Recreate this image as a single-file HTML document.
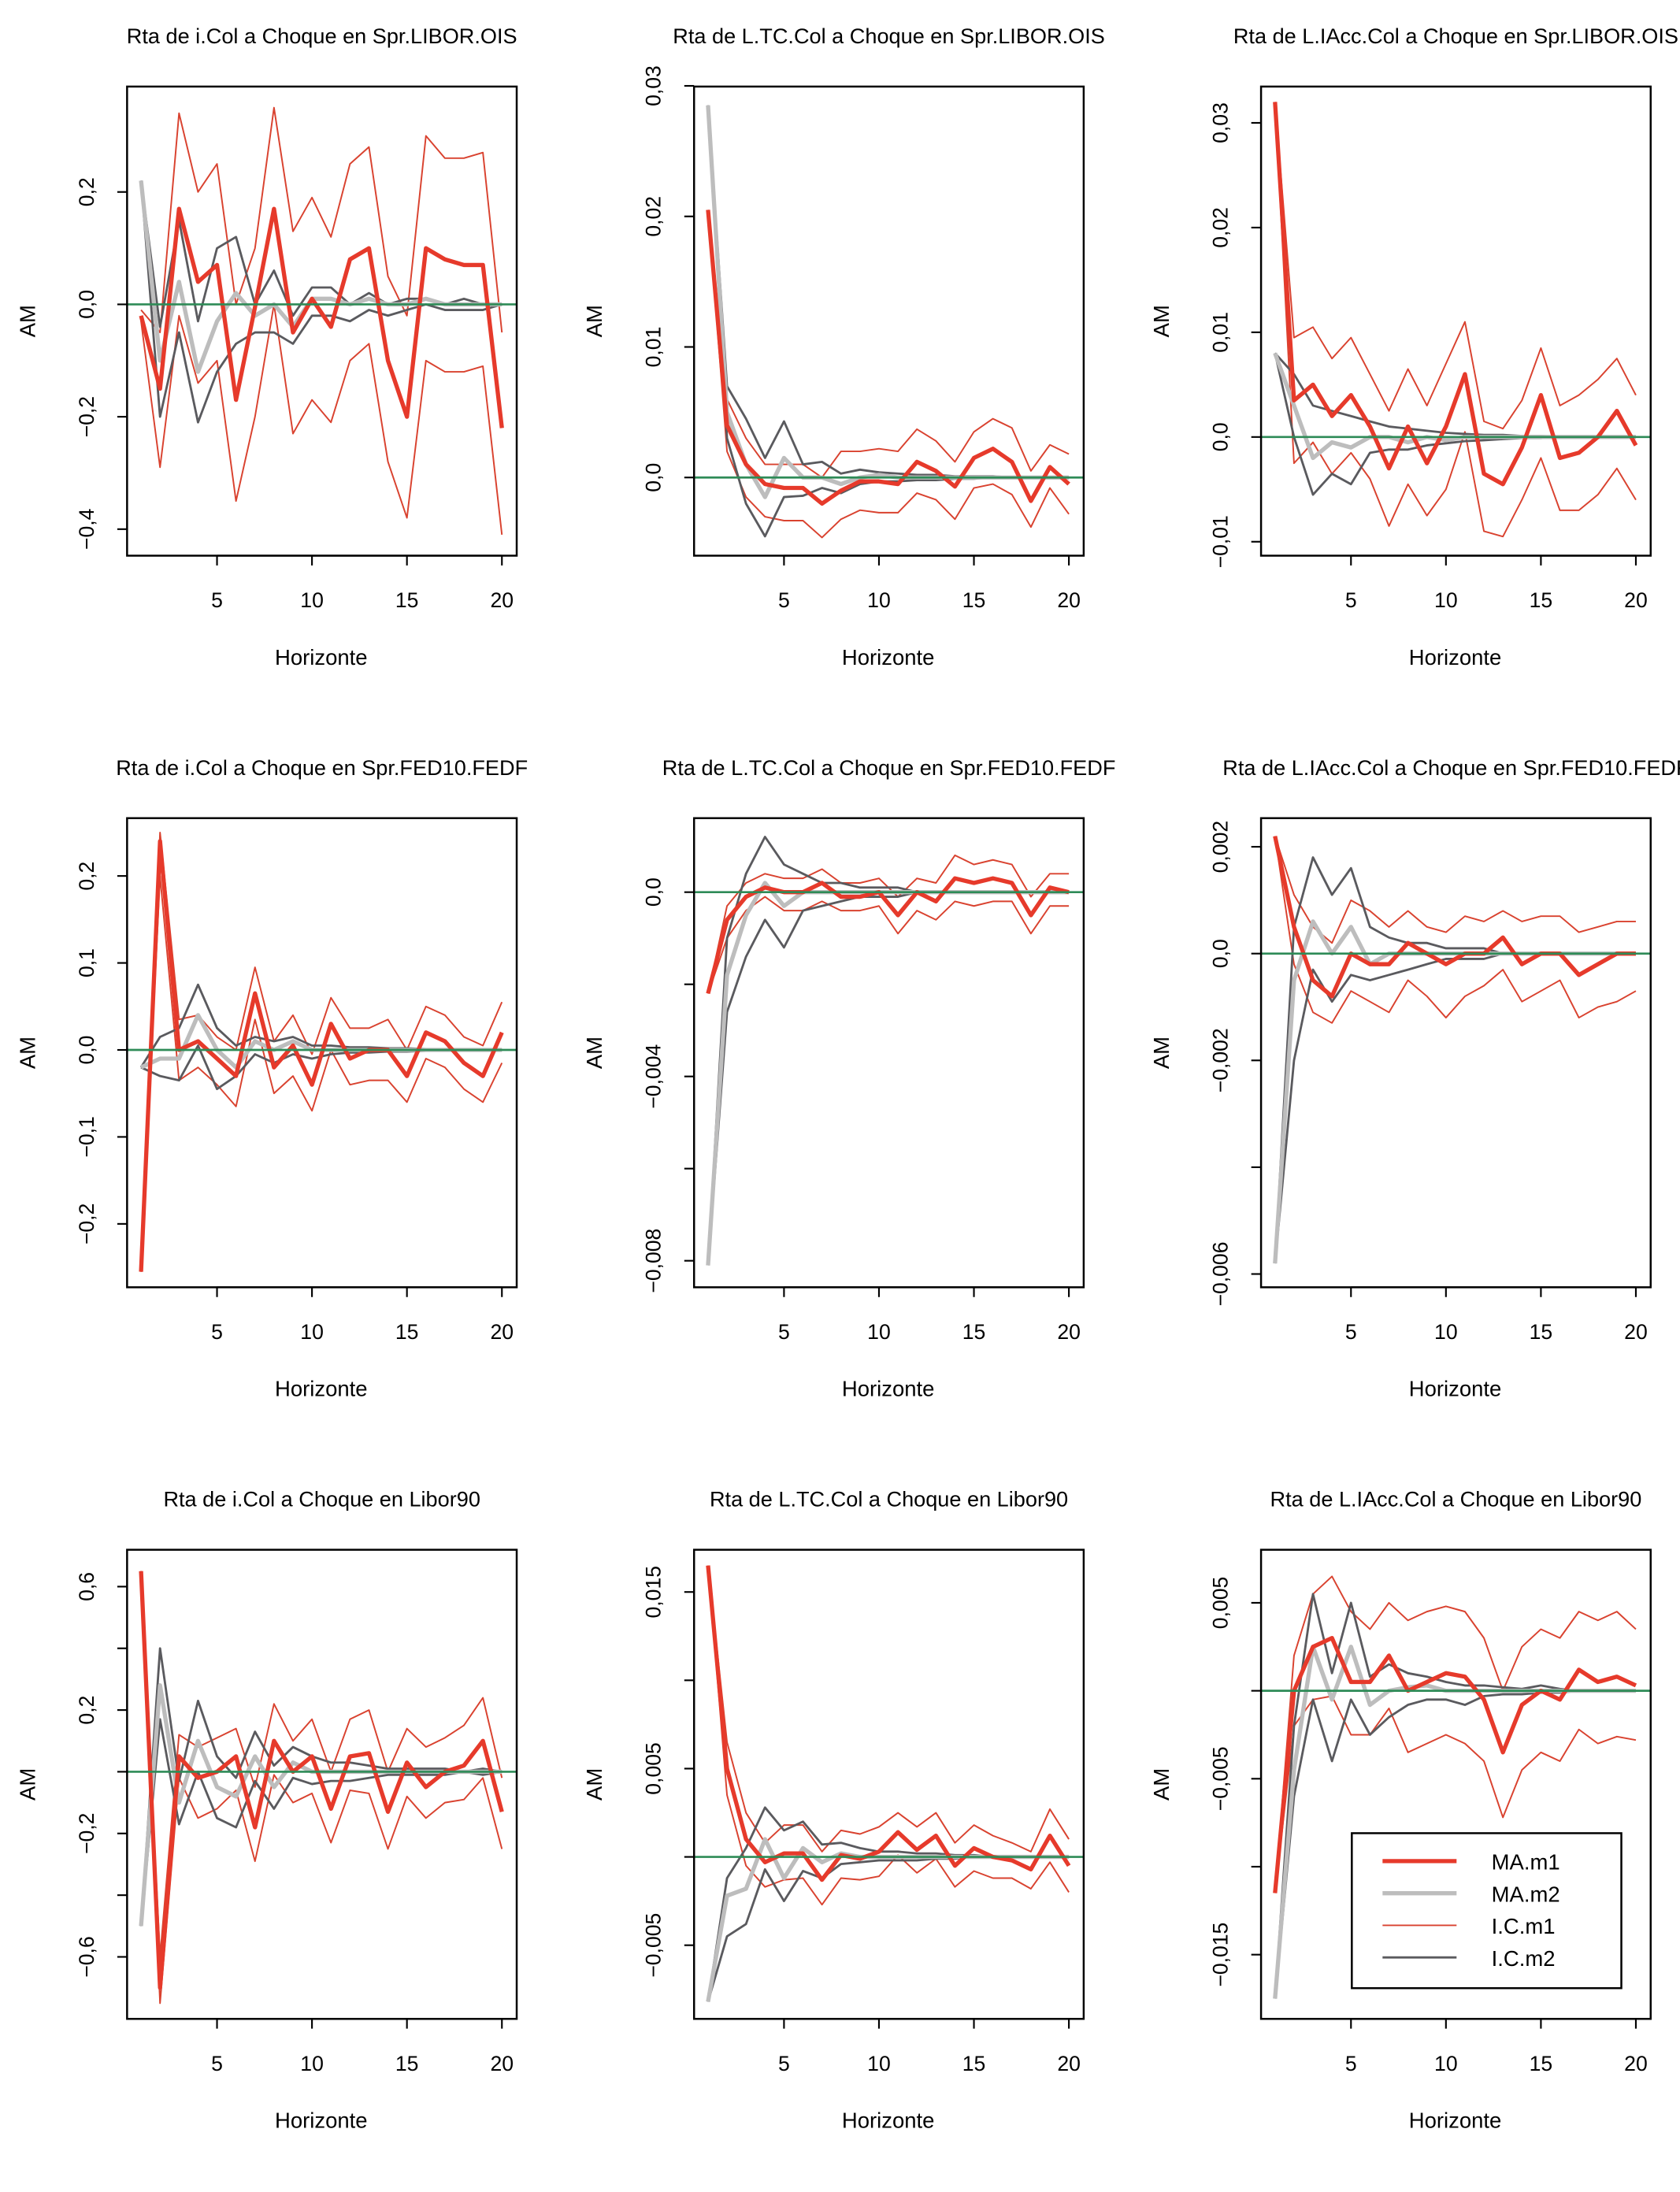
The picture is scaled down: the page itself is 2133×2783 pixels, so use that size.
<!DOCTYPE html>
<html><head><meta charset="utf-8"><style>
html,body{margin:0;padding:0;background:#fff}
svg{display:block}
text{font-family:"Liberation Sans",Arial,sans-serif;fill:#000}
</style></head><body>
<svg id="chart" width="2133" height="2783" viewBox="0 0 1203 1570" preserveAspectRatio="none" xmlns="http://www.w3.org/2000/svg"></svg>
<script>
const horizons=[1,2,3,4,5,6,7,8,9,10,11,12,13,14,15,16,17,18,19,20];
const xTicks=[5,10,15,20];
const titles=[
"Rta de i.Col a Choque en Spr.LIBOR.OIS","Rta de L.TC.Col a Choque en Spr.LIBOR.OIS","Rta de L.IAcc.Col a Choque en Spr.LIBOR.OIS",
"Rta de i.Col a Choque en Spr.FED10.FEDF","Rta de L.TC.Col a Choque en Spr.FED10.FEDF","Rta de L.IAcc.Col a Choque en Spr.FED10.FEDF",
"Rta de i.Col a Choque en Libor90","Rta de L.TC.Col a Choque en Libor90","Rta de L.IAcc.Col a Choque en Libor90"];
const yTicks=[[-0.4,-0.2,0,0.2],[0,0.01,0.02,0.03],[-0.01,0,0.01,0.02,0.03],[-0.2,-0.1,0,0.1,0.2],[-0.008,-0.006,-0.004,-0.002,0],[-0.006,-0.004,-0.002,0,0.002],[-0.6,-0.4,-0.2,0,0.2,0.4,0.6],[-0.005,0,0.005,0.01,0.015],[-0.015,-0.01,-0.005,0,0.005]];
const yLabels=[["−0,4","−0,2","0,0","0,2"],["0,0","0,01","0,02","0,03"],["−0,01","0,0","0,01","0,02","0,03"],["−0,2","−0,1","0,0","0,1","0,2"],["−0,008","","−0,004","","0,0"],["−0,006","","−0,002","0,0","0,002"],["−0,6","","−0,2","","0,2","","0,6"],["−0,005","","0,005","","0,015"],["−0,015","","−0,005","","0,005"]];
const ma1=[
[-0.02,-0.15,0.17,0.04,0.07,-0.17,-0.005,0.17,-0.05,0.01,-0.04,0.08,0.1,-0.1,-0.2,0.1,0.08,0.07,0.07,-0.22],
[0.0205,0.004,0.001,-0.0005,-0.0008,-0.0008,-0.002,-0.001,-0.0003,-0.0003,-0.0005,0.0012,0.0005,-0.0007,0.0015,0.0022,0.0012,-0.0018,0.0008,-0.0005],
[0.032,0.0035,0.005,0.002,0.004,0.001,-0.003,0.001,-0.0025,0.001,0.006,-0.0035,-0.0045,-0.001,0.004,-0.002,-0.0015,0,0.0025,-0.0008],
[-0.255,0.24,0,0.01,-0.01,-0.03,0.065,-0.02,0.005,-0.04,0.03,-0.01,0,0,-0.03,0.02,0.01,-0.015,-0.03,0.02],
[-0.0022,-0.0006,-0.0001,0.0001,0,0,0.0002,-0.0001,-0.0001,0,-0.0005,0,-0.0002,0.0003,0.0002,0.0003,0.0002,-0.0005,0.0001,0],
[0.0022,0.0005,-0.0005,-0.0008,0,-0.0002,-0.0002,0.0002,0,-0.0002,0,0,0.0003,-0.0002,0,0,-0.0004,-0.0002,0,0],
[0.65,-0.7,0.05,-0.02,0,0.05,-0.18,0.1,0,0.05,-0.12,0.05,0.06,-0.13,0.03,-0.05,0,0.02,0.1,-0.13],
[0.0165,0.005,0.001,-0.0003,0.0002,0.0002,-0.0013,0.0001,-0.0001,0.0003,0.0014,0.0004,0.0012,-0.0005,0.0005,0,-0.0002,-0.0007,0.0012,-0.0005],
[-0.0115,0,0.0025,0.003,0.0005,0.0005,0.002,0,0.0005,0.001,0.0008,-0.0005,-0.0035,-0.0008,0,-0.0005,0.0012,0.0005,0.0008,0.0003]];
const ic1Up=[
[-0.01,-0.05,0.34,0.2,0.25,0,0.1,0.35,0.13,0.19,0.12,0.25,0.28,0.05,-0.02,0.3,0.26,0.26,0.27,-0.05],
[0.0205,0.006,0.003,0.001,0.001,0.001,0,0.002,0.002,0.0022,0.002,0.0037,0.0028,0.0012,0.0035,0.0045,0.0038,0.0005,0.0025,0.0018],
[0.032,0.0095,0.0105,0.0075,0.0095,0.006,0.0025,0.0065,0.003,0.007,0.011,0.0015,0.0008,0.0035,0.0085,0.003,0.004,0.0055,0.0075,0.004],
[-0.255,0.25,0.035,0.04,0.015,0,0.095,0.01,0.04,-0.005,0.06,0.025,0.025,0.035,0,0.05,0.04,0.015,0.005,0.055],
[-0.0022,-0.0003,0.0002,0.0004,0.0003,0.0003,0.0005,0.0002,0.0002,0.0003,-0.0001,0.0003,0.0002,0.0008,0.0006,0.0007,0.0006,-0.0001,0.0004,0.0004],
[0.0022,0.0011,0.0005,0.0002,0.001,0.0008,0.0005,0.0008,0.0005,0.0004,0.0007,0.0006,0.0008,0.0006,0.0007,0.0007,0.0004,0.0005,0.0006,0.0006],
[0.65,-0.6,0.12,0.08,0.11,0.14,-0.05,0.22,0.1,0.17,0,0.17,0.2,0,0.14,0.08,0.11,0.15,0.24,-0.02],
[0.0165,0.0065,0.0025,0.0008,0.0018,0.0018,0.0003,0.0015,0.0013,0.0017,0.0025,0.0017,0.0025,0.0008,0.0018,0.0012,0.0008,0.0003,0.0027,0.001],
[-0.0115,0.002,0.0055,0.0065,0.0045,0.0035,0.005,0.004,0.0045,0.0048,0.0045,0.003,0,0.0025,0.0035,0.003,0.0045,0.004,0.0045,0.0035]];
const ic1Lo=[
[-0.03,-0.29,-0.02,-0.14,-0.1,-0.35,-0.2,0,-0.23,-0.17,-0.21,-0.1,-0.07,-0.28,-0.38,-0.1,-0.12,-0.12,-0.11,-0.41],
[0.0205,0.002,-0.0015,-0.003,-0.0033,-0.0033,-0.0046,-0.0032,-0.0025,-0.0027,-0.0027,-0.0012,-0.0017,-0.0032,-0.0008,-0.0005,-0.0013,-0.0038,-0.0008,-0.0028],
[0.032,-0.0025,-0.0005,-0.0035,-0.0015,-0.004,-0.0085,-0.0045,-0.0075,-0.005,0.0005,-0.009,-0.0095,-0.006,-0.002,-0.007,-0.007,-0.0055,-0.003,-0.006],
[-0.255,0.2,-0.035,-0.02,-0.04,-0.065,0.035,-0.05,-0.03,-0.07,0,-0.04,-0.035,-0.035,-0.06,-0.01,-0.02,-0.045,-0.06,-0.015],
[-0.0022,-0.001,-0.0004,-0.0001,-0.0004,-0.0004,-0.0002,-0.0004,-0.0004,-0.0003,-0.0009,-0.0004,-0.0006,-0.0002,-0.0003,-0.0002,-0.0002,-0.0009,-0.0003,-0.0003],
[0.0022,-0.0002,-0.0011,-0.0013,-0.0007,-0.0009,-0.0011,-0.0005,-0.0008,-0.0012,-0.0008,-0.0006,-0.0003,-0.0009,-0.0007,-0.0005,-0.0012,-0.001,-0.0009,-0.0007],
[0.65,-0.75,-0.02,-0.15,-0.12,-0.06,-0.29,-0.01,-0.1,-0.07,-0.23,-0.06,-0.07,-0.25,-0.08,-0.15,-0.1,-0.09,-0.02,-0.25],
[0.0165,0.0035,-0.0005,-0.0017,-0.0013,-0.0012,-0.0027,-0.0012,-0.0013,-0.0011,0.0001,-0.0009,-0.0001,-0.0017,-0.0008,-0.0012,-0.0012,-0.0018,-0.0003,-0.002],
[-0.0115,-0.002,-0.0005,-0.0003,-0.0025,-0.0025,-0.001,-0.0035,-0.003,-0.0025,-0.003,-0.004,-0.0072,-0.0045,-0.0035,-0.004,-0.0022,-0.003,-0.0026,-0.0028]];
const ma2=[
[0.22,-0.1,0.04,-0.12,-0.03,0.02,-0.02,0,-0.04,0.01,0.01,0,0.01,0,0,0.01,0,0,0,0],
[0.0285,0.005,0.001,-0.0015,0.0015,0,0,-0.0005,0,0.0002,0,0,0,0,0,0,0,0,0,0],
[0.008,0.003,-0.002,-0.0005,-0.001,0,0,-0.0005,0,-0.0003,0,0,0,0,0,0,0,0,0,0],
[-0.02,-0.01,-0.01,0.04,0,-0.02,0.01,0,0.01,0,0,0,0,0,0,0,0,0,0,0],
[-0.0081,-0.0018,-0.0005,0.0002,-0.0003,0,0,0,0,0,0,0,0,0,0,0,0,0,0,0],
[-0.0058,-0.0005,0.0006,0,0.0005,-0.0002,0,0,0,0,0,0,0,0,0,0,0,0,0,0],
[-0.5,0.28,-0.1,0.1,-0.05,-0.08,0.05,-0.05,0.03,0,0,0,0,0,0,0,0,0,0,0],
[-0.0082,-0.0022,-0.0018,0.001,-0.0012,0.0005,-0.0003,0.0002,0,0,0,0,0,0,0,0,0,0,0,0],
[-0.0175,-0.0045,0.0025,-0.0005,0.0025,-0.0008,0,0.0002,0.0003,0,0,0,0,0,0,0,0,0,0,0]];
const ic2Up=[
[0.22,-0.04,0.15,-0.03,0.1,0.12,0,0.06,-0.02,0.03,0.03,0,0.02,0,0.01,0.01,0,0.01,0,0],
[0.0285,0.007,0.0045,0.0015,0.0043,0.001,0.0012,0.0003,0.0006,0.0004,0.0003,0.0002,0.0002,0.0001,0.0001,0.0001,0,0,0,0],
[0.008,0.006,0.003,0.0025,0.002,0.0015,0.001,0.0008,0.0006,0.0004,0.0003,0.0002,0.0002,0.0001,0.0001,0,0,0,0,0],
[-0.02,0.015,0.025,0.075,0.025,0.005,0.015,0.01,0.015,0.005,0.005,0.003,0.003,0.002,0.002,0.001,0,0,0,0],
[-0.0081,-0.001,0.0004,0.0012,0.0006,0.0004,0.0002,0.0002,0.0001,0.0001,0.0001,0,0,0,0,0,0,0,0,0],
[-0.0058,0.0005,0.0018,0.0011,0.0016,0.0005,0.0003,0.0002,0.0002,0.0001,0.0001,0.0001,0,0,0,0,0,0,0,0],
[-0.5,0.4,-0.03,0.23,0.05,-0.02,0.13,0.02,0.08,0.05,0.03,0.03,0.02,0.01,0.01,0.01,0.01,0,0.01,0],
[-0.0082,-0.0012,0.0005,0.0028,0.0015,0.002,0.0007,0.0008,0.0005,0.0003,0.0003,0.0002,0.0002,0.0001,0.0001,0,0,0,0,0],
[-0.0175,-0.002,0.0055,0.001,0.005,0.0008,0.0015,0.001,0.0008,0.0005,0.0003,0.0003,0.0002,0.0001,0.0003,0.0001,0,0,0,0]];
const ic2Lo=[
[0.22,-0.2,-0.05,-0.21,-0.12,-0.07,-0.05,-0.05,-0.07,-0.02,-0.02,-0.03,-0.01,-0.02,-0.01,0,-0.01,-0.01,-0.01,0],
[0.0285,0.003,-0.002,-0.0045,-0.0015,-0.0014,-0.0008,-0.0012,-0.0005,-0.0003,-0.0003,-0.0002,-0.0002,-0.0001,-0.0001,0,0,0,0,0],
[0.008,0,-0.0055,-0.0035,-0.0045,-0.0015,-0.0012,-0.0012,-0.0008,-0.0006,-0.0004,-0.0003,-0.0002,-0.0001,-0.0001,0,0,0,0,0],
[-0.02,-0.03,-0.035,0.005,-0.045,-0.03,-0.005,-0.015,-0.005,-0.01,-0.005,-0.003,-0.003,-0.002,-0.002,-0.001,0,0,0,0],
[-0.0081,-0.0026,-0.0014,-0.0006,-0.0012,-0.0004,-0.0003,-0.0002,-0.0001,-0.0001,-0.0001,0,0,0,0,0,0,0,0,0],
[-0.0058,-0.002,-0.0003,-0.0009,-0.0004,-0.0005,-0.0004,-0.0003,-0.0002,-0.0001,-0.0001,-0.0001,0,0,0,0,0,0,0,0],
[-0.5,0.17,-0.17,0,-0.15,-0.18,-0.03,-0.12,-0.02,-0.04,-0.03,-0.03,-0.02,-0.01,-0.01,-0.01,-0.01,0,-0.01,0],
[-0.0082,-0.0045,-0.0038,-0.0007,-0.0025,-0.0008,-0.0012,-0.0004,-0.0003,-0.0002,-0.0002,-0.0002,-0.0001,-0.0001,0,0,0,0,0,0],
[-0.0175,-0.006,-0.0005,-0.004,-0.0005,-0.0025,-0.0015,-0.0008,-0.0005,-0.0005,-0.0008,-0.0003,-0.0002,-0.0002,-0.0001,-0.0001,0,0,0,0]];
const legendLabels=["MA.m1","MA.m2","I.C.m1","I.C.m2"];

const colX=[91,497,903], rowY=[62,586,1110], W=279, H=336;
const zeroPx=[218,342,313,752,639,683,1269,1330,1211];
const pxPerUnit=[402.5,9350,7500,623,33000,38250,221,12650,12600];
const NS="http://www.w3.org/2000/svg";
const svg=document.getElementById('chart');
function mk(tag,attrs,parent){const e=document.createElementNS(NS,tag);for(const k in attrs)e.setAttribute(k,attrs[k]);(parent||svg).appendChild(e);return e;}
const styles={ic1:{stroke:"#d9422f",w:1.1},ic2:{stroke:"#5a5a5e",w:1.6},ma2:{stroke:"#bdbdbd",w:3},ma1:{stroke:"#e63a2b",w:3}};

for(let p=0;p<9;p++){
  const L=colX[p%3], T=rowY[Math.floor(p/3)];
  const g=mk('g',{});
  
  
  const cp=mk('clipPath',{id:'cp'+p},g);
  mk('rect',{x:L,y:T,width:W,height:H},cp);
  const xs=h=>L+10+(h-1)*13.6;
  const ys=v=>zeroPx[p]-v*pxPerUnit[p];
  const t=mk('text',{x:L+W/2,y:T-31,'text-anchor':'middle','font-size':15.3},g);
  t.textContent=titles[p];
  
  
  const series=[["ic1-upper",ic1Up[p],"ic1"],["ic1-lower",ic1Lo[p],"ic1"],["ic2-upper",ic2Up[p],"ic2"],["ic2-lower",ic2Lo[p],"ic2"],["ma-m2",ma2[p],"ma2"],["ma-m1",ma1[p],"ma1"]];
  series.forEach(([nm,vals,st])=>{
    const d=vals.map((v,i)=>(i?'L':'M')+xs(horizons[i]).toFixed(1)+','+ys(v).toFixed(1)).join('');
    const pa=mk('path',{d:d,fill:'none',stroke:styles[st].stroke,'stroke-width':styles[st].w,'stroke-linejoin':'round','clip-path':'url(#cp'+p+')'},g);
    
    
  });
  const zl=mk('line',{x1:L,x2:L+W,y1:ys(0),y2:ys(0),stroke:"#2e8b57",'stroke-width':1.5},g);
  
  
  const bx=mk('rect',{x:L,y:T,width:W,height:H,fill:'none',stroke:'#000','stroke-width':1.4},g);
  
  
  xTicks.forEach(h=>{
    mk('line',{x1:xs(h),x2:xs(h),y1:T+H,y2:T+H+7,stroke:'#000','stroke-width':1.2},g);
    const tx=mk('text',{x:xs(h),y:T+H+37,'text-anchor':'middle','font-size':15},g);
    tx.textContent=h;
    
    
  });
  mk('line',{x1:xs(5),x2:xs(20),y1:T+H,y2:T+H,stroke:'#000','stroke-width':1.2},g);
  const xt=mk('text',{x:L+139,y:T+H+78,'text-anchor':'middle','font-size':15.5},g);
  xt.textContent='Horizonte';
  
  
  yTicks[p].forEach((v,i)=>{
    const y=ys(v);
    mk('line',{x1:L-7,x2:L,y1:y,y2:y,stroke:'#000','stroke-width':1.2},g);
    if(yLabels[p][i]){
      const ty=mk('text',{x:L-24,y:y,'text-anchor':'middle','font-size':15,transform:'rotate(-90 '+(L-24)+' '+y+')'},g);
      ty.textContent=yLabels[p][i];
      
      
    }
  });
  const yt=mk('text',{x:L-66,y:T+H/2,'text-anchor':'middle','font-size':15.5,transform:'rotate(-90 '+(L-66)+' '+(T+H/2)+')'},g);
  yt.textContent='AM';
  
  
}
const lg=mk('g',{});


mk('rect',{x:968,y:1313,width:193,height:111,fill:'#fff',stroke:'#000','stroke-width':1.4},lg);
const lgSt=[styles.ma1,styles.ma2,styles.ic1,styles.ic2];
legendLabels.forEach((lab,i)=>{
  const y=1333+i*23;
  const e=mk('g',{},lg);
  
  
  mk('line',{x1:990,x2:1043,y1:y,y2:y,stroke:lgSt[i].stroke,'stroke-width':lgSt[i].w},e);
  const tt=mk('text',{x:1068,y:y+6,'font-size':15.5},e);
  tt.textContent=lab;
});
</script>
</body></html>
